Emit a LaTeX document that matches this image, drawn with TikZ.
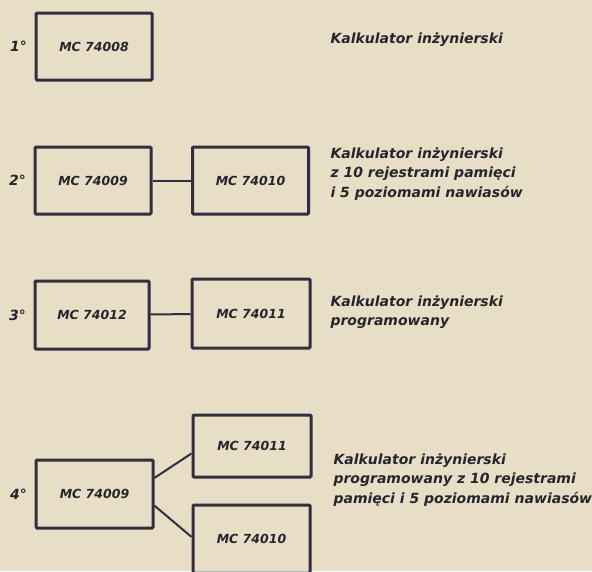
\documentclass[tikz,border=0pt]{standalone}
\usepackage{fontspec}
\setmainfont{DejaVu Sans}
\usepackage{tikz}
\usetikzlibrary{positioning,calc}
\usepackage{xcolor}
\definecolor{paper}{RGB}{232,222,198}
\definecolor{ink}{RGB}{50,46,66}
\definecolor{print}{RGB}{38,36,44}

\begin{document}
\begin{tikzpicture}[
    x=1pt, y=-1pt,
    chip/.style={rectangle, draw=ink, line width=3pt, rounded corners=1pt, minimum width=116pt, minimum height=67pt, text=print, font=\fontsize{12.5}{14}\selectfont\bfseries\itshape},
    variant/.style={text=print, font=\fontsize{14}{20}\selectfont\bfseries\itshape, left=4pt of #1},
    desc/.style={anchor=west, align=left, text=print, font=\fontsize{14}{19.5}\selectfont\bfseries\itshape},
    wire/.style={draw=ink, line width=2pt}
]
\fill[paper] (0,0) rectangle (592,571);
\useasboundingbox (0,0) rectangle (592,571);

% 1 - single chip
\node[chip] (b1) at (94,46.5) {MC 74008};
\node[variant=b1] (n1) {1°};
\node[desc] (d1) at (327,40) {Kalkulator inżynierski};

% 2 - two chips
\node[chip] (b2a) at (93,180.5) {MC 74009};
\node[chip] (b2b) at (250.5,180.5) {MC 74010};
\node[variant=b2a] (n2) {2°};
\draw[wire] (b2a) -- (b2b);
\node[desc] (d2) at (327,174) {Kalkulator inżynierski\\ z 10 rejestrami pamięci\\ i 5 poziomami nawiasów};

% 3 - programmable
\node[chip, minimum width=114pt, minimum height=68pt] (b3a) at (92,315) {MC 74012};
\node[chip, minimum width=118pt, minimum height=69pt] (b3b) at (251,313.5) {MC 74011};
\node[variant=b3a] (n3) {3°};
\draw[wire] (b3a) -- (b3b);
\node[desc] (d3) at (327,312) {Kalkulator inżynierski\\ programowany};

% 4 - three chips
\node[chip, minimum width=117pt, minimum height=68pt] (b4a) at (94.5,494) {MC 74009};
\node[chip, minimum width=118pt, minimum height=62pt] (b4b) at (252,446) {MC 74011};
\node[chip, minimum width=117pt, minimum height=68pt] (b4c) at (251.5,539) {MC 74010};
\node[variant=b4a] (n4) {4°};
\draw[wire] (b4a.15) -- (b4b.187);
\draw[wire] (b4a.-11) -- (b4c.178);
\node[desc] (d4) at (330,480) {Kalkulator inżynierski\\ programowany z 10 rejestrami\\ pamięci i 5 poziomami nawiasów};
\end{tikzpicture}
\end{document}
